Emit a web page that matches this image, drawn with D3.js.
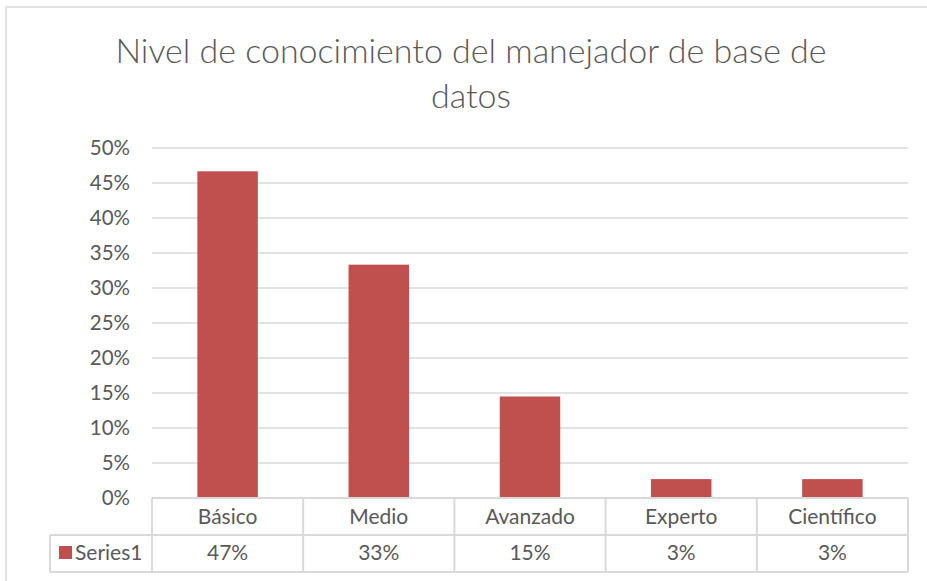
<!DOCTYPE html>
<html>
<head>
<meta charset="utf-8">
<script src="https://cdn.jsdelivr.net/npm/d3@7"></script>
<style>
  body { margin: 0; background: #fff; }
  text { font-family: Lato, "Open Sans", sans-serif; fill: #595959; }
</style>
</head>
<body>
<div id="container"></div>
<script>
var categories = ["Básico", "Medio", "Avanzado", "Experto", "Científico"];
var values = [0.4667, 0.3333, 0.145, 0.027, 0.027];
var valueLabels = ["47%", "33%", "15%", "3%", "3%"];
var yTicks = [0, 0.05, 0.1, 0.15, 0.2, 0.25, 0.3, 0.35, 0.4, 0.45, 0.5];
var seriesName = "Series1";

var W = 927, H = 581;
var plot = { left: 152, right: 908, top: 148, bottom: 498 };
var rowH = 37;
var barColor = "#c0504d", lineColor = "#d9d9d9";
var fs = "21px";

var svg = d3.select("#container")
  .append("svg")
  .attr("width", W)
  .attr("height", H);

// chart frame
svg.append("rect")
  .attr("x", 6).attr("y", 7)
  .attr("width", W + 10).attr("height", H + 10)
  .attr("fill", "#fff")
  .attr("stroke", lineColor)
  .attr("stroke-width", 1.5);

// title
var title = svg.append("text")
  .attr("text-anchor", "middle")
  .style("font-size", "34px")
  .style("font-weight", 300);
title.append("tspan").attr("x", 471).attr("y", 63).text("Nivel de conocimiento del manejador de base de");
title.append("tspan").attr("x", 471).attr("y", 108).text("datos");

var x = d3.scaleBand()
  .domain(categories)
  .range([plot.left, plot.right])
  .paddingInner(0.6)
  .paddingOuter(0.3);

var cols = d3.scaleBand()
  .domain(categories)
  .range([plot.left, plot.right]);

var y = d3.scaleLinear()
  .domain([0, 0.5])
  .range([plot.bottom, plot.top]);

// gridlines
svg.append("g")
  .selectAll("line")
  .data(yTicks.slice(1))
  .enter().append("line")
    .attr("x1", plot.left).attr("x2", plot.right)
    .attr("y1", function(d) { return y(d); })
    .attr("y2", function(d) { return y(d); })
    .attr("stroke", lineColor)
    .attr("stroke-width", 1.5);

// y axis labels
var yAxis = svg.append("g")
  .attr("transform", "translate(" + (plot.left - 22) + ",0)")
  .call(d3.axisLeft(y).tickValues(yTicks).tickFormat(d3.format(".0%")).tickSize(0).tickPadding(0));
yAxis.select(".domain").remove();
yAxis.selectAll("text")
  .attr("fill", null)
  .style("font-family", "Lato, sans-serif")
  .style("font-size", "20.5px");

// bars
svg.append("g")
  .selectAll("rect")
  .data(values)
  .enter().append("rect")
    .attr("x", function(d, i) { return x(categories[i]); })
    .attr("width", x.bandwidth())
    .attr("y", function(d) { return y(d); })
    .attr("height", function(d) { return plot.bottom - y(d); })
    .attr("fill", barColor);

// data table
var table = svg.append("g");
var legendLeft = 50;
var tb = plot.bottom + rowH * 2;

table.append("line")
  .attr("x1", plot.left).attr("x2", plot.right)
  .attr("y1", plot.bottom).attr("y2", plot.bottom);
table.append("line")
  .attr("x1", legendLeft).attr("x2", plot.right)
  .attr("y1", plot.bottom + rowH).attr("y2", plot.bottom + rowH);
table.append("line")
  .attr("x1", legendLeft).attr("x2", plot.right)
  .attr("y1", tb).attr("y2", tb);
table.append("line")
  .attr("x1", legendLeft).attr("x2", legendLeft)
  .attr("y1", plot.bottom + rowH).attr("y2", tb);
table.selectAll(".colLine")
  .data(categories.concat(["end"]))
  .enter().append("line")
    .classed("colLine", true)
    .attr("x1", function(d) { return d === "end" ? plot.right : cols(d); })
    .attr("x2", function(d) { return d === "end" ? plot.right : cols(d); })
    .attr("y1", plot.bottom).attr("y2", tb);
table.selectAll("line")
  .attr("stroke", lineColor)
  .attr("stroke-width", 2);

table.selectAll(".catLabel")
  .data(categories)
  .enter().append("text")
    .classed("catLabel", true)
    .attr("x", function(d) { return cols(d) + cols.bandwidth() / 2; })
    .attr("y", plot.bottom + 26)
    .attr("text-anchor", "middle")
    .style("font-size", fs)
    .text(function(d) { return d; });

table.selectAll(".valLabel")
  .data(valueLabels)
  .enter().append("text")
    .classed("valLabel", true)
    .attr("x", function(d, i) { return cols(categories[i]) + cols.bandwidth() / 2; })
    .attr("y", plot.bottom + rowH + 25)
    .attr("text-anchor", "middle")
    .style("font-size", fs)
    .text(function(d) { return d; });

table.append("rect")
  .attr("x", 59).attr("y", 546)
  .attr("width", 13).attr("height", 13)
  .attr("fill", barColor);
table.append("text")
  .attr("x", 75).attr("y", plot.bottom + rowH + 25)
  .style("font-size", fs)
  .text(seriesName);
</script>
</body>
</html>
